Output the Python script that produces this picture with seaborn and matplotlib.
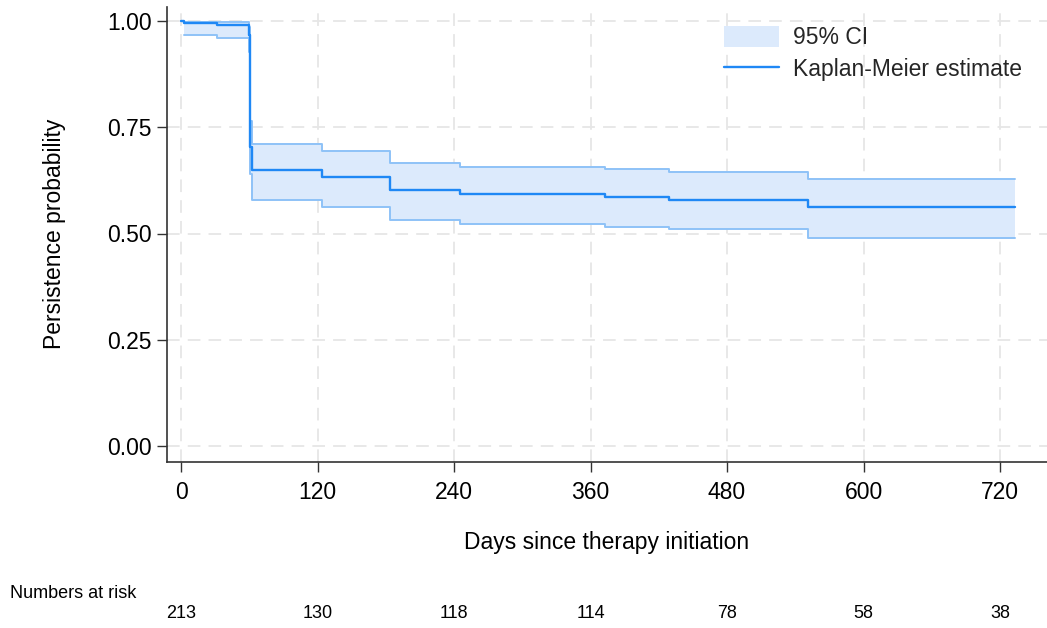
import matplotlib
matplotlib.use("Agg")
import matplotlib.pyplot as plt
import matplotlib.transforms as mtransforms
from matplotlib.patches import Patch
from matplotlib.lines import Line2D
import seaborn as sns
import pandas as pd

# ---- data ----
times = [0, 3, 32, 60, 61, 62, 124, 184, 245, 373, 429, 551, 733]
surv = [1.000, 0.995, 0.991, 0.967, 0.704, 0.649, 0.634, 0.602, 0.592, 0.587, 0.580, 0.562, 0.562]
ci_lo = [1.000, 0.967, 0.961, 0.928, 0.640, 0.579, 0.563, 0.532, 0.522, 0.516, 0.511, 0.490, 0.490]
ci_hi = [1.000, 0.998, 0.997, 0.985, 0.765, 0.711, 0.695, 0.665, 0.657, 0.652, 0.645, 0.629, 0.629]
xticks = [0, 120, 240, 360, 480, 600, 720]
yticks = [0.00, 0.25, 0.50, 0.75, 1.00]
risk_times = [0, 120, 240, 360, 480, 600, 720]
risk_counts = [213, 130, 118, 114, 78, 58, 38]

df = pd.DataFrame({"t": times, "s": surv, "lo": ci_lo, "hi": ci_hi})
ci_df = df[df["t"] >= 3]

sns.set_theme(style="white")
plt.rcParams["font.family"] = ["Liberation Sans", "DejaVu Sans"]

W, H = 1047, 628
fig = plt.figure(figsize=(W / 100, H / 100), dpi=100)
left, right, top, bottom = 166.7, 1047, 7, 462
ax = fig.add_axes([left / W, 1 - bottom / H, (right - left) / W, (bottom - top) / H])

c_line = "#1f88f5"
c_fill = "#dceafc"
c_edge = "#8ec2f7"

ax.fill_between(ci_df["t"], ci_df["lo"], ci_df["hi"], step="post", color=c_fill, lw=0, zorder=1)
sns.lineplot(data=ci_df, x="t", y="lo", ax=ax, drawstyle="steps-post", color=c_edge, lw=1.4, zorder=2, estimator=None)
sns.lineplot(data=ci_df, x="t", y="hi", ax=ax, drawstyle="steps-post", color=c_edge, lw=1.4, zorder=2, estimator=None)
sns.lineplot(data=df, x="t", y="s", ax=ax, drawstyle="steps-post", color=c_line, lw=1.7, zorder=3, estimator=None)

xscale = (1000 - 181) / 720.0
yscale = 425.0
ax.set_xlim(-(181 - left) / xscale, (right - 181) / xscale)
ax.set_ylim(-(bottom - 446) / yscale, (446 - top) / yscale)
ax.set_xticks(xticks)
ax.set_yticks(yticks)
ax.set_yticklabels([f"{v:.2f}" for v in yticks])

ax.grid(True, which="major", color="#e6e6e6", lw=1.3, ls=(0, (7, 4.5)))
ax.set_axisbelow(True)
for s in ["top", "right"]:
    ax.spines[s].set_visible(False)
for s in ["left", "bottom"]:
    ax.spines[s].set_color("#333333")
    ax.spines[s].set_linewidth(1.2)
ax.tick_params(axis="both", which="major", direction="out", length=7, width=1.0,
               color="#333333", labelsize=16.5, labelcolor="black", bottom=True, left=True)
ax.tick_params(axis="x", pad=7)
ax.tick_params(axis="y", pad=4)

ax.set_xlabel("Days since therapy initiation", fontsize=16.5, color="black", labelpad=0)
ax.set_ylabel("Persistence probability", fontsize=16.5, color="black", labelpad=0)
ax.xaxis.set_label_coords((607 - left) / (right - left), -(542 - bottom) / (bottom - top))
ax.yaxis.set_label_coords(-(left - 55) / (right - left), (bottom - 234) / (bottom - top))
ax.xaxis.label.set_va("center")
ax.yaxis.label.set_va("center")

handles = [Patch(facecolor=c_fill, edgecolor="none", label="95% CI"),
           Line2D([0], [0], color=c_line, lw=1.7, label="Kaplan-Meier estimate")]
fig.legend(handles=handles, loc="upper left", bbox_to_anchor=(724 / W, 1 - 26 / H),
           frameon=False, fontsize=16.5, borderpad=0, borderaxespad=0,
           handlelength=2.4, handleheight=1.05, handletextpad=0.6, labelspacing=0.35)

# numbers at risk
fig.text(10 / W, 1 - 593 / H, "Numbers at risk", fontsize=13, ha="left", va="center", color="black")
trans = mtransforms.blended_transform_factory(ax.transData, fig.transFigure)
for t, n in zip(risk_times, risk_counts):
    ax.text(t, 1 - 613 / H, str(n), transform=trans, fontsize=13, ha="center", va="center",
            color="black", clip_on=False)

fig.savefig("out.png", dpi=100, facecolor="white")
